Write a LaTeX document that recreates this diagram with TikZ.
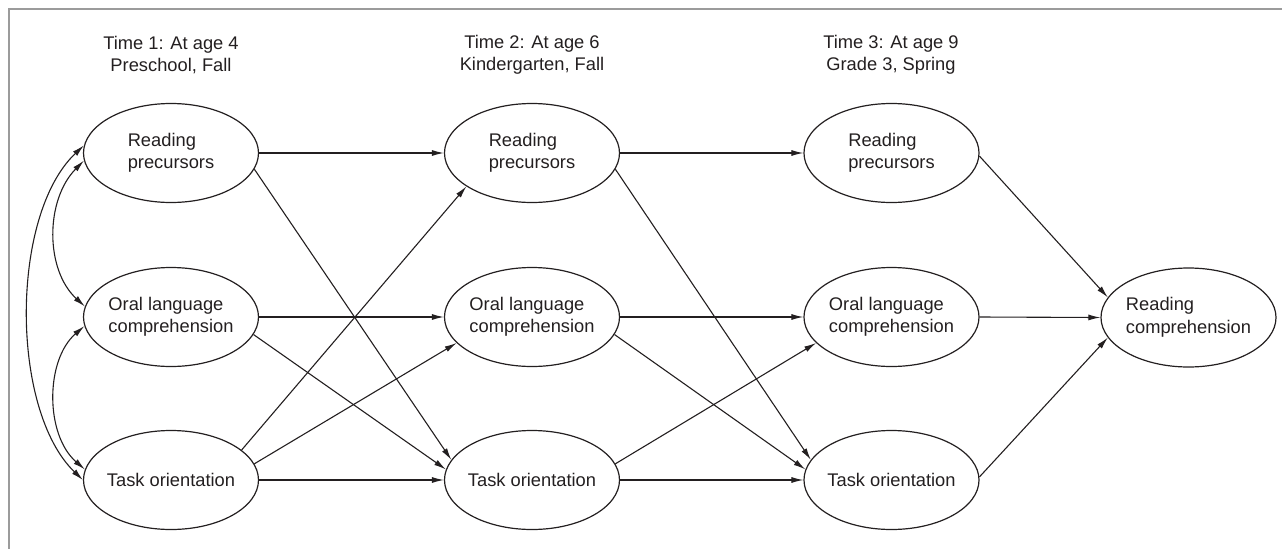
\documentclass[tikz,border=0pt]{standalone}
\usepackage{fontspec}
\setmainfont{Liberation Sans}
\usetikzlibrary{shapes.geometric,arrows.meta}
\definecolor{ink}{RGB}{35,31,32}
\definecolor{framegray}{RGB}{155,155,155}
\begin{document}
\begin{tikzpicture}[x=1pt,y=-1pt,
  var/.style={ellipse,draw=ink,line width=1.2pt,minimum width=175pt,minimum height=99pt,inner sep=0pt},
  lab/.style={align=left,text=ink,inner sep=0pt,font=\fontsize{18.3}{22.5}\selectfont},
  head/.style={align=center,text=ink,inner sep=0pt,font=\fontsize{18.3}{22.5}\selectfont},
  tip/.tip={Latex[length=12pt,width=6pt]},
  conn/.style={draw=ink,line width=1.1pt,-tip},
  dbl/.style={draw=ink,line width=1.1pt,tip-tip}]
\useasboundingbox (0,0) rectangle (1282,549);
\draw[framegray,line width=2pt] (1282,9) -- (9,9) -- (9,549);

% headers
\node[head] (h1) at (171,55) {Time 1: At age 4\\Preschool, Fall};
\node[head] (h2) at (532,55) {Time 2: At age 6\\Kindergarten, Fall};
\node[head] (h3) at (891,55) {Time 3: At age 9\\Grade 3, Spring};

% column 1
\node[var,label={[lab]center:Reading\\precursors}] (rp1) at (171,153) {};
\node[var,label={[lab]center:Oral language\\comprehension}] (ol1) at (171,317) {};
\node[var,label={[lab]center:Task orientation}] (to1) at (171,480) {};
% column 2
\node[var,label={[lab]center:Reading\\precursors}] (rp2) at (532,153) {};
\node[var,label={[lab]center:Oral language\\comprehension}] (ol2) at (532,317) {};
\node[var,label={[lab]center:Task orientation}] (to2) at (532,480) {};
% column 3
\node[var,label={[lab]center:Reading\\precursors}] (rp3) at (891.5,153) {};
\node[var,label={[lab]center:Oral language\\comprehension}] (ol3) at (891.5,317) {};
\node[var,label={[lab]center:Task orientation}] (to3) at (891.5,480) {};
% outcome
\node[var,label={[lab]center:Reading\\comprehension}] (rc) at (1188.5,317.5) {};

% correlations at time 1
\draw[dbl] (rp1.175) .. controls (10,215) and (10,410) .. (to1.180);
\draw[dbl] (rp1.185) .. controls (45,200) and (45,270) .. (ol1.173);
\draw[dbl] (ol1.186) .. controls (45,360) and (45,435) .. (to1.173);

% time 1 -> time 2
\draw[conn] (rp1.east) -- (rp2.west);
\draw[conn] (rp1.349) -- (to2.166);
\draw[conn] (ol1.east) -- (ol2.west);
\draw[conn] (ol1.348) -- (to2.173);
\draw[conn] (to1.23) -- (rp2.207);
\draw[conn] (to1.11) -- (ol2.199);
\draw[conn] (to1.east) -- (to2.west);

% time 2 -> time 3
\draw[conn] (rp2.east) -- (rp3.west);
\draw[conn] (rp2.349) -- (to3.166);
\draw[conn] (ol2.east) -- (ol3.west);
\draw[conn] (ol2.348) -- (to3.173);
\draw[conn] (to2.11) -- (ol3.199);
\draw[conn] (to2.east) -- (to3.west);

% time 3 -> outcome
\draw[conn] (rp3.358) -- (rc.166);
\draw[conn] (ol3.east) -- (rc.west);
\draw[conn] (to3.2) -- (rc.194);
\end{tikzpicture}
\end{document}
